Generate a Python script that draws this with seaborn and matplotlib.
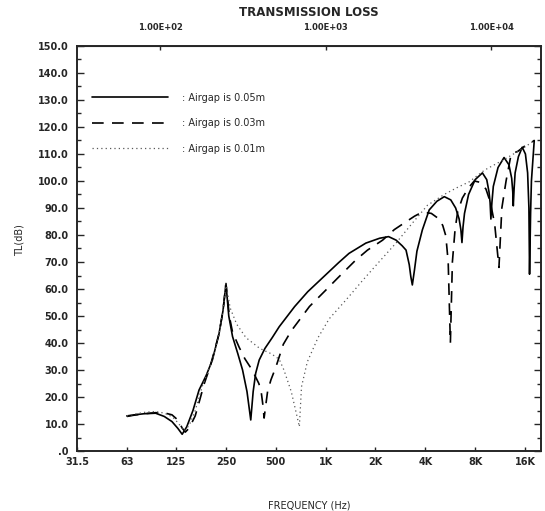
import pandas as pd
import matplotlib
matplotlib.use("Agg")
import matplotlib.pyplot as plt
from matplotlib.ticker import FixedLocator, NullLocator
import seaborn as sns

# transmission loss (Hz, dB)
freq_05 = [63, 70, 80, 94, 106, 118, 128, 136, 145, 158, 172, 190, 207, 227, 240, 250,
           260, 274, 295, 315, 335, 353,
           365, 378, 397, 430, 476, 524, 650, 780, 915, 1052, 1200, 1385, 1750, 2120, 2400,
           2664, 2900, 3060, 3200, 3270, 3340,
           3440, 3560, 3840, 4225, 4700, 5210, 5700, 6100, 6400, 6560, 6660,
           6760, 6900, 7300, 8000, 8850, 9400, 9700, 9850, 9960,
           10100, 10300, 11000, 11960, 12800, 13300, 13500, 13600,
           13750, 13950, 14600, 15400, 16100, 16600, 16900, 17050,
           17300, 17500, 18200]
tl_05 = [13.0, 13.4, 13.8, 14.0, 12.8, 10.9, 8.4, 6.2, 9.0, 15.0, 22.6, 28.0, 33.7, 43.4, 52.0, 62.0,
         50.0, 42.4, 36.0, 30.0, 22.0, 11.5,
         22.0, 28.8, 33.7, 38.0, 42.0, 46.0, 53.5, 59.0, 63.0, 66.5, 69.8, 73.2, 77.0, 78.8, 79.4,
         78.1, 76.0, 74.4, 69.0, 64.6, 61.5,
         67.0, 74.0, 81.9, 89.3, 92.5, 94.2, 93.0, 90.0, 86.0, 82.0, 77.2,
         83.0, 88.0, 95.0, 100.5, 103.0, 100.5, 96.0, 92.0, 85.9,
         92.0, 98.0, 105.0, 108.7, 106.0, 101.0, 96.0, 90.8,
         97.0, 103.0, 109.0, 112.5, 110.0, 103.0, 90.0, 65.5,
         88.0, 100.0, 115.0]

freq_03 = [63, 70, 80, 94, 108, 118, 128, 136, 142, 150, 163, 172, 185, 200, 215, 227, 240, 250,
           262, 274, 300, 325, 360, 395, 408, 418, 425,
           435, 446, 467, 500, 555, 620, 694, 798, 1003, 1180, 1520, 1790, 2210, 2600, 3060, 3450,
           3840, 4350, 4850, 5100, 5320, 5500, 5670,
           5830, 6050, 6270, 6700, 7300, 7900, 8600, 9300, 9900, 10500, 11140,
           11600, 12300, 13200, 14500, 16000, 17200, 18200]
tl_03 = [12.8, 13.3, 13.8, 14.2, 14.0, 13.4, 11.5, 8.5, 7.0, 8.5, 13.0, 18.0, 25.0, 31.0, 38.0, 43.4, 52.0, 62.0,
         50.0, 44.0, 38.5, 34.2, 30.0, 25.0, 22.0, 17.0, 12.2,
         17.0, 22.0, 26.3, 31.0, 39.5, 44.5, 48.5, 53.5, 59.6, 64.0, 70.7, 74.4, 78.1, 82.0, 84.9, 87.0,
         88.5, 88.0, 85.9, 83.5, 79.7, 70.0, 40.0,
         70.0, 82.0, 88.5, 93.7, 97.5, 100.0, 99.5, 97.0, 92.0, 84.0, 68.0,
         90.0, 100.0, 110.0, 111.0, 113.0, 114.0, 115.0]

freq_01 = [63, 72, 80, 90, 100, 112, 122, 132, 140, 150, 163, 180, 207, 227, 240, 250,
           265, 290, 330, 400, 470, 524, 560, 620, 665, 694,
           715, 775, 900, 1052, 1330, 1680, 2100, 2660, 3300, 4120, 5200, 6200, 7370, 9100,
           12000, 15500, 18200]
tl_01 = [13.0, 13.8, 14.3, 14.6, 14.4, 13.5, 12.0, 9.5, 7.5, 9.5, 15.0, 24.0, 33.7, 43.4, 52.0, 62.0,
         53.0, 47.0, 42.0, 38.0, 36.0, 34.0, 30.0, 22.0, 14.0, 9.0,
         23.8, 33.0, 42.0, 49.0, 56.0, 63.3, 70.0, 77.0, 84.0, 91.0, 95.0, 97.5, 99.7, 104.0,
         108.0, 112.0, 115.0]

gaps = ["0.05m", "0.03m", "0.01m"]
octave_ticks = [31.5, 63, 125, 250, 500, 1000, 2000, 4000, 8000, 16000]
octave_labels = ["31.5", "63", "125", "250", "500", "1K", "2K", "4K", "8K", "16K"]
decade_ticks = [100, 1000, 10000]
decade_labels = ["1.00E+02", "1.00E+03", "1.00E+04"]
y_ticks = list(range(0, 151, 10))

df = pd.concat([
    pd.DataFrame({"freq": freq_05, "tl": tl_05, "gap": gaps[0]}),
    pd.DataFrame({"freq": freq_03, "tl": tl_03, "gap": gaps[1]}),
    pd.DataFrame({"freq": freq_01, "tl": tl_01, "gap": gaps[2]}),
], ignore_index=True)

sns.set_style("ticks")
plt.rcParams["font.family"] = ["DejaVu Sans"]

fig = plt.figure(figsize=(5.45, 5.11), dpi=100)
ax = fig.add_axes([0.1413, 0.1174, 0.8514, 0.7926])

sns.lineplot(data=df, x="freq", y="tl", hue="gap", style="gap",
             hue_order=gaps, style_order=gaps,
             palette={"0.05m": "black", "0.03m": "black", "0.01m": "0.35"},
             dashes={"0.05m": "", "0.03m": (7, 5), "0.01m": (1, 2.5)},
             estimator=None, sort=False, legend=False, linewidth=1.2, ax=ax)
ax.lines[2].set_linewidth(0.9)

ax.set_xscale("log")
ax.set_xlim(31.5, 20000)
ax.set_ylim(0, 150)

ax.xaxis.set_major_locator(FixedLocator(octave_ticks))
ax.xaxis.set_minor_locator(NullLocator())
ax.set_xticklabels(octave_labels)
ax.set_yticks(y_ticks)
ax.set_yticklabels([".0" if v == 0 else f"{v:.1f}" for v in y_ticks])
ax.set_yticks(list(range(5, 150, 10)), minor=True)

ax.tick_params(axis="x", direction="in", length=3, width=1, pad=4, labelsize=7)
ax.tick_params(axis="y", which="major", direction="in", length=5, width=1,
               right=True, pad=6, labelsize=7)
ax.tick_params(axis="y", which="minor", direction="in", length=3, width=1, right=True)
for lab in ax.get_xticklabels() + ax.get_yticklabels():
    lab.set_fontweight("bold")

for sp in ax.spines.values():
    sp.set_visible(True)
    sp.set_linewidth(1.4)

top = ax.secondary_xaxis("top")
top.set_xticks(decade_ticks)
top.set_xticklabels(decade_labels)
top.xaxis.set_minor_locator(NullLocator())
top.tick_params(direction="in", length=3, width=1, pad=10, labelsize=6)
for lab in top.get_xticklabels():
    lab.set_fontweight("bold")

ax.set_xlabel("FREQUENCY (Hz)", fontsize=7)
ax.xaxis.set_label_coords(0.5, -0.121)
ax.set_ylabel("TL(dB)", fontsize=7)
ax.yaxis.set_label_coords(-0.113, 0.52)

ax.legend(handles=ax.lines[:3],
          labels=[": Airgap is " + g for g in gaps],
          loc="upper left", bbox_to_anchor=(0.032, 0.885),
          frameon=False, fontsize=7, handlelength=7.8, handletextpad=1.5,
          labelspacing=1.6, borderpad=0, borderaxespad=0)

fig.text(0.567, 0.975, "TRANSMISSION LOSS", ha="center", va="center",
         fontsize=8.5, fontweight="bold")

fig.savefig("out.png", dpi=100)
